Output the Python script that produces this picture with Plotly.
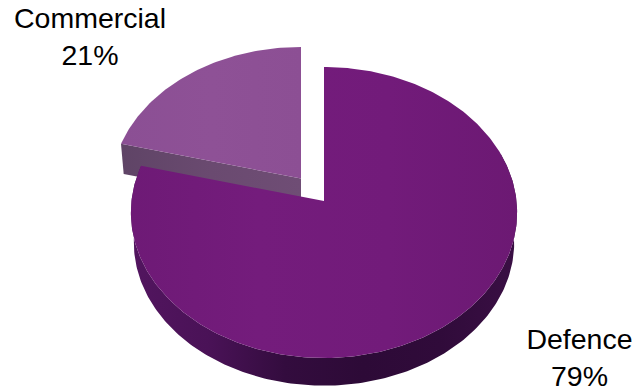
import numpy as np
import plotly.graph_objects as go

# Revenue split by sector
categories = ["Defence", "Commercial"]
shares = [79, 21]

WIDTH, HEIGHT = 638, 390
TILT = 0.0791  # foreshortening of the far side of the disc


def rim(theta, cx, cy, rx, ry):
    """Project clock angles (degrees from 12 o'clock) onto the tilted disc."""
    t = np.radians(theta)
    u, v = np.sin(t), np.cos(t)
    w = 1 + TILT * v
    return cx + rx * u / w, cy - ry * v / w


def poly(x, y, colors):
    stops = np.linspace(0, 1, len(colors))
    return go.Scatter(
        x=list(x), y=list(y), mode="lines", fill="toself",
        line=dict(width=0), hoverinfo="skip",
        fillgradient=dict(type="horizontal",
                          colorscale=[[float(s), c] for s, c in zip(stops, colors)]),
    )


sweep = [s / sum(shares) * 360 for s in shares]
fig = go.Figure()

# Commercial wedge: pulled out towards the upper left, drawn first so Defence overlaps it
c_cx, c_cy, c_rx, c_ry, depth = 301, 178.5, 189.5, 142, 29.5
theta_c = np.linspace(sweep[0], 360, 80)
xt, yt = rim(theta_c, c_cx, c_cy, c_rx, c_ry)
xb, yb = rim(theta_c, c_cx, c_cy + depth, c_rx * 0.985, c_ry * 0.985)
# cut face running from the corner to the apex
fig.add_trace(poly([xt[0], c_cx, c_cx, xb[0]],
                   [yt[0], c_cy, c_cy + depth, yb[0]],
                   ["#5f4466", "#6a4a70", "#6f4d75"]))
fig.add_trace(poly(np.r_[c_cx, xt, c_cx], np.r_[c_cy, yt, c_cy],
                   ["#8b4f94", "#8e5196", "#8c4f94"]))

# Defence wedge
d_cx, d_cy, d_rx, d_ry, d_depth = 324, 201, 192.5, 144.6, 30
theta_d = np.linspace(0, sweep[0], 300)
xt, yt = rim(theta_d, d_cx, d_cy, d_rx, d_ry)
xb, yb = rim(theta_d, d_cx, d_cy + d_depth, d_rx * 0.985, d_ry * 0.985)
front = (theta_d >= 70) & (theta_d <= 285)
fig.add_trace(poly(np.r_[xt[front], xb[front][::-1]], np.r_[yt[front], yb[front][::-1]],
                   ["#52155f", "#4a1257", "#330c3e", "#2d0a37", "#300b3a", "#3a0f44"]))
fig.add_trace(poly(np.r_[d_cx, xt, d_cx], np.r_[d_cy, yt, d_cy],
                   ["#6e1a76", "#741c7c", "#721b7a", "#6c1973"]))

# Category labels with their percentages
label_x = [579.5, 90]
label_y = [360, 39.5]
fig.add_trace(go.Scatter(
    x=label_x, y=label_y, mode="text",
    text=[f"{c}<br>{s}%" for c, s in zip(categories, shares)],
    textposition="middle center", cliponaxis=False,
    textfont=dict(family="Liberation Sans", size=28.5, color="#000000"),
    hoverinfo="skip",
))

fig.update_layout(
    width=WIDTH, height=HEIGHT, showlegend=False,
    margin=dict(l=0, r=0, t=0, b=0),
    paper_bgcolor="white", plot_bgcolor="white",
    xaxis=dict(range=[0, WIDTH], visible=False, fixedrange=True),
    yaxis=dict(range=[HEIGHT, 0], visible=False, fixedrange=True),
)
fig.write_html("out.html", config=dict(displayModeBar=False))
